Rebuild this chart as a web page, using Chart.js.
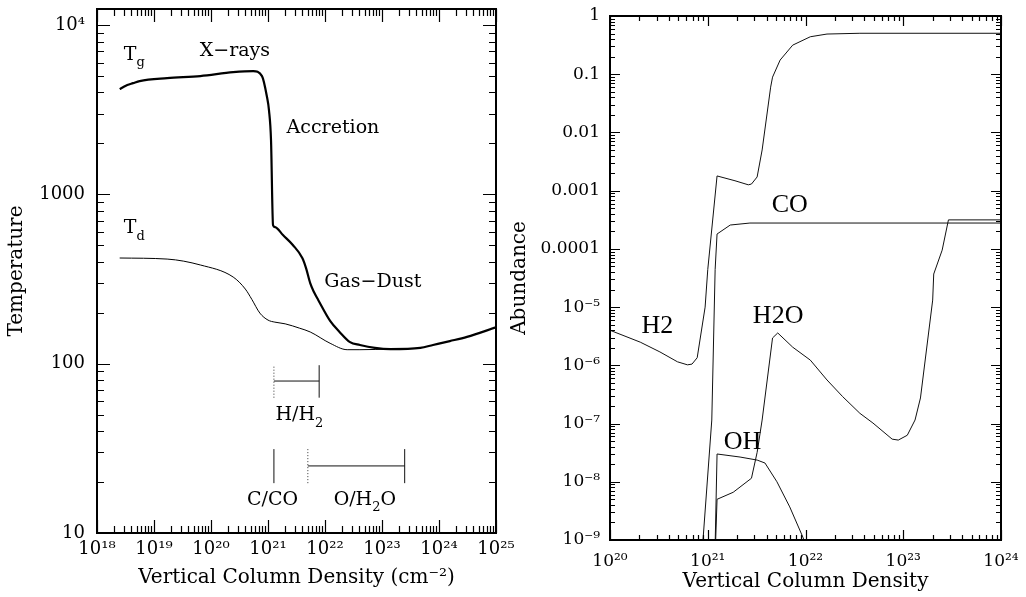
<!DOCTYPE html>
<html>
<head>
<meta charset="utf-8">
<script src="https://cdn.jsdelivr.net/npm/chart.js@4.4.1/dist/chart.umd.min.js"></script>
<style>
  html, body { margin: 0; padding: 0; background: #fff; }
  #wrap { position: relative; width: 1026px; height: 597px; overflow: hidden; }
  canvas { position: absolute; top: 0; }
  #left { left: 0; }
  #right { left: 500px; }
</style>
</head>
<body>
<div id="wrap">
  <canvas id="left" width="540" height="597"></canvas>
  <canvas id="right" width="526" height="597"></canvas>
</div>
<script>
// ---- left panel : temperatures ----
const colGas = [2.5e18, 2.86e18, 3.4e18, 4.28e18, 5.6e18, 1.7e19, 6.5e19, 2.45e20, 5.5e20, 7.85e20, 9.6e20, 1.04e21,
                1.13e21, 1.225e21, 1.33e21, 1.83e21, 2.75e21, 4.0e21, 4.65e21, 5.5e21, 6.4e21, 7.6e21, 1.23e22, 1.8e22,
                2.75e22, 4.1e22, 7.5e22, 1.4e23, 4.7e23, 7.85e23, 1.55e24, 3.1e24, 1e25];
const tGas   = [4190, 4300, 4430, 4540, 4670, 4860, 5000, 5270, 5350, 5000, 3760, 3150,
                2090, 659, 641, 575, 501, 421, 367, 299, 265, 238, 179, 154,
                134, 129, 124, 122, 124, 129, 136, 144, 164];
const colDust = [2.5e18, 1.7e19, 6.5e19, 2.45e20, 4.0e20, 5.2e20, 7.2e20, 1.0e21, 1.32e21, 2.0e21, 3.6e21, 5.5e21,
                 1.23e22, 2.45e22, 4.1e22, 1.4e23];
const tDust   = [421, 415, 383, 325, 276, 240, 199, 181, 176, 172, 162, 154,
                 132, 121, 121, 122];

// transition zones (column density ranges)
const zoneHH2 = [1.27e21, 7.9e21];   // H/H2, bar drawn at T = 79
const zoneCCO = [1.27e21];           // C/CO
const zoneOH2O = [5.0e21, 2.5e23];   // O/H2O, bar drawn at T = 24.9

const leftXTicks  = [1e18, 1e19, 1e20, 1e21, 1e22, 1e23, 1e24, 1e25];
const leftXLabels = ['10¹⁸', '10¹⁹', '10²⁰', '10²¹', '10²²', '10²³', '10²⁴', '10²⁵'];
const leftYTicks  = [10, 100, 1000, 10000];
const leftYLabels = ['10', '100', '1000', '10⁴'];

const leftNotes = [
  { text: 'T_g', x: 4.5e18, y: 6650 },
  { text: 'T_d', x: 4.5e18, y: 632 },
  { text: 'X−rays', x: 2.63e20, y: 7020 },
  { text: 'Accretion', x: 1.38e22, y: 2470 },
  { text: 'Gas−Dust', x: 6.9e22, y: 303 },
  { text: 'H/H_2', x: 3.55e21, y: 49.5 },
  { text: 'C/CO', x: 1.2e21, y: 15.7 },
  { text: 'O/H_2O', x: 5.0e22, y: 15.7 }
];

// ---- right panel : abundances ----
const colH2 = [1e20, 2.04e20, 3.24e20, 4.9e20, 6.2e20, 6.9e20, 7.8e20, 9.4e20, 1.0e21, 1.245e21, 1.9e21, 2.6e21, 2.8e21,
               3.2e21, 3.6e21, 4.4e21, 4.6e21, 5.5e21, 7.4e21, 1.12e22, 1.66e22, 3.6e22, 1e24];
const abH2  = [4.0e-6, 2.5e-6, 1.7e-6, 1.15e-6, 1.02e-6, 1.05e-6, 1.35e-6, 1.0e-5, 4.4e-5, 1.79e-3, 1.48e-3, 1.26e-3, 1.30e-3,
               1.72e-3, 5.0e-3, 0.060, 0.089, 0.175, 0.316, 0.44, 0.49, 0.505, 0.505];
const colCO = [8.9e20, 1.1e21, 1.19e21, 1.245e21, 1.7e21, 2.7e21, 1e24];
const abCO  = [9e-10, 1.15e-7, 4.4e-5, 1.8e-4, 2.57e-4, 2.78e-4, 2.78e-4];
const colOH = [1.19e21, 1.245e21, 2.14e21, 3.2e21, 3.85e21, 5.1e21, 6.9e21, 9.4e21, 9.9e21];
const abOH  = [8e-10, 3.0e-8, 2.66e-8, 2.36e-8, 2.1e-8, 1.0e-8, 3.7e-9, 1.12e-9, 8.9e-10];
const colH2O = [1.2e21, 1.245e21, 1.82e21, 2.8e21, 3.2e21, 3.6e21, 4.6e21, 5.2e21, 7.4e21, 1.12e22, 1.66e22, 2.4e22,
                3.6e22, 4.9e22, 7.7e22, 8.9e22, 1.1e23, 1.32e23, 1.5e23, 2.0e23, 2.05e23, 2.5e23, 2.9e23, 1e24];
const abH2O  = [8e-10, 5.0e-9, 6.6e-9, 1.15e-8, 3.2e-8, 1.15e-7, 2.95e-6, 3.6e-6, 2.05e-6, 1.23e-6, 5.6e-7, 2.9e-7,
                1.5e-7, 1.02e-7, 5.4e-8, 5.2e-8, 6.3e-8, 1.15e-7, 2.75e-7, 1.32e-5, 3.7e-5, 9.5e-5, 3.15e-4, 3.15e-4];

const rightXTicks  = [1e20, 1e21, 1e22, 1e23, 1e24];
const rightXLabels = ['10²⁰', '10²¹', '10²²', '10²³', '10²⁴'];
const rightYTicks  = [1e-9, 1e-8, 1e-7, 1e-6, 1e-5, 1e-4, 1e-3, 0.01, 0.1, 1];
const rightYLabels = ['10⁻⁹', '10⁻⁸', '10⁻⁷', '10⁻⁶', '10⁻⁵', '0.0001', '0.001', '0.01', '0.1', '1'];

const rightNotes = [
  { text: 'CO', x: 6.9e21, y: 5.7e-4 },
  { text: 'H2', x: 3.06e20, y: 4.7e-6 },
  { text: 'H2O', x: 5.25e21, y: 7.0e-6 },
  { text: 'OH', x: 2.27e21, y: 4.7e-8 }
];

// helpers
const pairs = (xs, ys) => xs.map((x, i) => ({ x: x, y: ys[i] }));
const seg = (x0, y0, x1, y1) => [{ x: x0, y: y0 }, { x: x1, y: y1 }];

function eachLogTick(min, max, fn) {
  for (let d = Math.floor(Math.log10(min)); d <= Math.ceil(Math.log10(max)); d++) {
    for (let k = 1; k <= 9; k++) {
      const v = k * Math.pow(10, d);
      if (v >= min * 0.9999 && v <= max * 1.0001) fn(v, k === 1);
    }
  }
}

// frame with inward ticks on all four sides + text notes
const frameTicks = {
  id: 'frameTicks',
  afterDatasetsDraw(chart, args, o) {
    const { ctx, chartArea: a, scales: { x, y } } = chart;
    ctx.save();
    ctx.strokeStyle = '#000';
    ctx.lineWidth = 1.2;
    ctx.beginPath();
    eachLogTick(x.min, x.max, (v, major) => {
      const px = Math.round(x.getPixelForValue(v)) + 0.5;
      const len = major ? o.major : o.minor;
      ctx.moveTo(px, a.bottom); ctx.lineTo(px, a.bottom - len);
      ctx.moveTo(px, a.top); ctx.lineTo(px, a.top + len);
    });
    eachLogTick(y.min, y.max, (v, major) => {
      const py = Math.round(y.getPixelForValue(v)) + 0.5;
      const len = major ? o.major : o.minor;
      ctx.moveTo(a.left, py); ctx.lineTo(a.left + len, py);
      ctx.moveTo(a.right, py); ctx.lineTo(a.right - len, py);
    });
    ctx.stroke();
    ctx.lineWidth = 2;
    ctx.strokeRect(a.left, a.top, a.right - a.left, a.bottom - a.top);

    // notes
    ctx.fillStyle = '#000';
    ctx.textBaseline = 'middle';
    ctx.textAlign = 'left';
    o.notes.forEach(n => {
      const px = x.getPixelForValue(n.x), py = y.getPixelForValue(n.y);
      const parts = n.text.split(/(_.)/).filter(Boolean)
        .map(s => s[0] === '_' ? { t: s[1], sub: true } : { t: s, sub: false });
      let w = 0;
      parts.forEach(p => { ctx.font = p.sub ? o.subFont : o.font; p.w = ctx.measureText(p.t).width; w += p.w; });
      let cx = px - w / 2;
      parts.forEach(p => {
        ctx.font = p.sub ? o.subFont : o.font;
        ctx.fillText(p.t, cx, py + (p.sub ? o.subDrop : 0));
        cx += p.w;
      });
    });
    ctx.restore();
  }
};

function logAxis(min, max, ticks, labels, size, fontSize, pad, title, titlePad, horizontal) {
  return {
    type: 'logarithmic',
    min: min, max: max,
    bounds: 'data',
    afterBuildTicks: s => { s.ticks = ticks.map(v => ({ value: v })); },
    afterFit: s => {
      if (horizontal) s.height = size; else s.width = size;
      // keep the plot box where the layout padding puts it
      s.paddingTop = 0; s.paddingBottom = 0; s.paddingLeft = 0; s.paddingRight = 0;
    },
    grid: { display: false, drawTicks: false },
    border: { display: false },
    ticks: {
      autoSkip: false, maxRotation: 0, padding: pad, color: '#000',
      font: { family: 'DejaVu Serif', size: fontSize },
      callback: (v, i) => labels[i]
    },
    title: {
      display: true, text: title, color: '#000', padding: titlePad,
      font: { family: 'DejaVu Serif', size: 20 }
    }
  };
}

const baseOptions = {
  responsive: false,
  animation: false,
  elements: { point: { radius: 0 }, line: { borderColor: '#000', fill: false, tension: 0 } },
  plugins: { legend: { display: false }, tooltip: { enabled: false } }
};

const thin = { borderColor: '#111', borderWidth: 1 };
const dotted = { borderColor: '#333', borderWidth: 1, borderDash: [1, 2] };

new Chart(document.getElementById('left'), {
  type: 'line',
  data: {
    datasets: [
      { data: pairs(colGas, tGas), borderWidth: 2.2, cubicInterpolationMode: 'monotone' },
      { data: pairs(colDust, tDust), borderWidth: 1, cubicInterpolationMode: 'monotone' },
      Object.assign({ data: seg(zoneHH2[0], 63, zoneHH2[0], 98) }, dotted),
      Object.assign({ data: seg(zoneHH2[0], 79, zoneHH2[1], 79) }, thin),
      Object.assign({ data: seg(zoneHH2[1], 63, zoneHH2[1], 98) }, thin),
      Object.assign({ data: seg(zoneCCO[0], 19.7, zoneCCO[0], 31.3) }, thin),
      Object.assign({ data: seg(zoneOH2O[0], 19.7, zoneOH2O[0], 31.3) }, dotted),
      Object.assign({ data: seg(zoneOH2O[0], 24.9, zoneOH2O[1], 24.9) }, thin),
      Object.assign({ data: seg(zoneOH2O[1], 19.7, zoneOH2O[1], 31.3) }, thin)
    ]
  },
  options: Object.assign({}, baseOptions, {
    layout: { padding: { left: 0, top: 9, right: 44, bottom: 0 }, autoPadding: false },
    plugins: Object.assign({}, baseOptions.plugins, {
      frameTicks: { major: 13, minor: 7, notes: leftNotes,
        font: '19px "DejaVu Serif"', subFont: '13px "DejaVu Serif"', subDrop: 8 }
    }),
    scales: {
      x: logAxis(1e18, 1e25, leftXTicks, leftXLabels, 64, 18, 6,
        'Vertical Column Density (cm⁻²)', { top: 0, bottom: 7 }, true),
      y: logAxis(10, 12450, leftYTicks, leftYLabels, 97, 18, 12,
        'Temperature', { top: 5, bottom: 0 }, false)
    }
  }),
  plugins: [frameTicks]
});

new Chart(document.getElementById('right'), {
  type: 'line',
  data: {
    datasets: [
      Object.assign({ data: pairs(colH2, abH2) }, thin),
      Object.assign({ data: pairs(colCO, abCO) }, thin),
      Object.assign({ data: pairs(colOH, abOH) }, thin),
      Object.assign({ data: pairs(colH2O, abH2O) }, thin)
    ]
  },
  options: Object.assign({}, baseOptions, {
    layout: { padding: { left: 0, top: 16, right: 25, bottom: 0 }, autoPadding: false },
    plugins: Object.assign({}, baseOptions.plugins, {
      frameTicks: { major: 10, minor: 5, notes: rightNotes,
        font: '26px "Liberation Serif"', subFont: '18px "Liberation Serif"', subDrop: 8 }
    }),
    scales: {
      x: logAxis(1e20, 1e24, rightXTicks, rightXLabels, 57, 17, 11,
        'Vertical Column Density', { top: 0, bottom: 3 }, true),
      y: logAxis(1e-9, 1, rightYTicks, rightYLabels, 110, 17, 10,
        'Abundance', { top: 8, bottom: 0 }, false)
    }
  }),
  plugins: [frameTicks]
});
</script>
</body>
</html>
